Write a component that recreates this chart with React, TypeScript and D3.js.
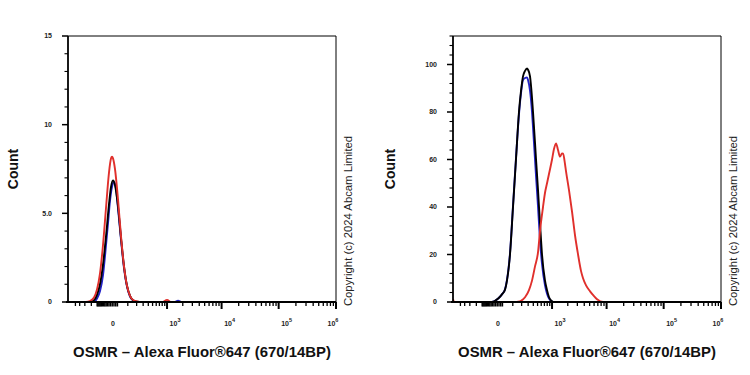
import React from "react";
import * as d3 from "d3";

// ---------- data ----------
const X_MIN = -720;
const X_MAX = 1000000;
const SYMLOG_CONSTANT = 135;

const xMajorTicks = [1000, 10000, 100000, 1000000];
const xMajorExponents = ["3", "4", "5", "6"];
const xZeroLabel = "0";
const xMinorTicks = [
  -500, -400, -300, -200,
  100, 200, 300, 400, 500, 600, 700, 800, 900,
  2000, 3000, 4000, 5000, 6000, 7000, 8000, 9000,
  20000, 30000, 40000, 50000, 60000, 70000, 80000, 90000,
  200000, 300000, 400000, 500000, 600000, 700000, 800000, 900000,
];
const xZeroClusterTicks = [-130, -120, -110, -100, -90, -80, -70, -60, -50, -40, -30, -20, -10, 0, 10, 20];

const leftYMax = 15;
const leftYMajor = [0, 5, 10, 15];
const leftYLabels = ["0", "5.0", "10", "15"];
const leftYMinorStep = 1;

const rightYMax = 112;
const rightYMajor = [0, 20, 40, 60, 80, 100];
const rightYLabels = ["0", "20", "40", "60", "80", "100"];
const rightYMinorStep = 4;

const xTitle = "OSMR \u2013 Alexa Fluor\u00ae647 (670/14BP)";
const yTitle = "Count";
const copyright = "Copyright (c) 2024 Abcam Limited";

type Pt = [number, number];

const leftRed: Pt[] = [
  [-720, 0], [-281, 0], [-219, 0.05], [-166, 0.25], [-132, 0.7], [-102, 1.6], [-75, 3.2],
  [-51, 5.3], [-30, 7.3], [-17, 8.1], [-11, 8.2], [-5.5, 8.1], [5.5, 7.5], [23.5, 5.8],
  [44, 3.7], [67, 2.0], [93, 0.9], [122, 0.35], [155, 0.12], [205, 0.03], [281, 0],
  [800, 0], [1000, 0.12], [1200, 0], [1000000, 0],
];
const leftBlack: Pt[] = [
  [-720, 0], [-220, 0], [-166, 0.1], [-132, 0.4], [-102, 1.0], [-75, 2.1], [-51, 3.7],
  [-30, 5.5], [-17, 6.5], [-5.5, 6.85], [5.5, 6.6], [23.5, 5.4], [44, 3.6], [67, 2.0],
  [93, 0.9], [122, 0.35], [155, 0.1], [205, 0.02], [281, 0], [1000000, 0],
];
const leftBlue: Pt[] = [
  [-720, 0], [-166, 0], [-132, 0.2], [-102, 0.6], [-75, 1.5], [-51, 3.2], [-37, 4.4],
  [-23.5, 5.7], [-11, 6.5], [0, 6.75], [11.3, 6.4], [23.5, 5.3], [44, 3.5], [67, 1.9],
  [93, 0.85], [122, 0.3], [155, 0.08], [205, 0], [1400, 0], [1630, 0.08], [1900, 0],
  [1000000, 0],
];

const rightRed: Pt[] = [
  [-720, 1.3], [-700, 0.4], [-680, 0], [132, 0], [155, 0.1], [192, 0.5], [249, 2], [315, 5],
  [373, 9], [438, 15], [512, 21], [566, 30], [655, 40], [721, 46], [793, 50], [871, 54],
  [1000, 60], [1094, 64.5], [1197, 66.8], [1308, 64], [1429, 61.2], [1560, 62.6],
  [1630, 62.5], [1777, 58], [1855, 55], [2110, 47], [2398, 38], [2722, 28], [3088, 20],
  [3501, 13], [3804, 10], [4309, 7], [5084, 4.5], [5993, 2.5], [6777, 1.2], [8661, 0],
  [1000000, 0],
];
const rightBlack: Pt[] = [
  [-720, 0], [-51, 0], [-37, 0.1], [-17, 0.8], [0, 1.8], [17, 3.2], [37, 5.2], [51, 9],
  [75, 20], [102, 40], [132, 60], [166, 80], [192, 89], [219, 95], [249, 97.3], [281, 98.3],
  [298, 97.8], [334, 95], [373, 86], [394, 80], [438, 67], [462, 60], [512, 47], [538, 40],
  [566, 33], [624, 20], [721, 9], [793, 5], [871, 2], [1000, 0.3], [1100, 0], [1000000, 0],
];
const rightBlue: Pt[] = [
  [-720, 0], [-51, 0], [-37, 0.1], [-17, 0.8], [0, 1.8], [17, 3.2], [37, 5.4], [51, 9.3],
  [75, 20.5], [102, 40.5], [132, 60.5], [166, 79], [192, 88], [219, 93.5], [249, 94.3],
  [281, 94.6], [298, 93.5], [334, 89], [373, 80], [394, 73.5], [438, 60], [462, 53],
  [512, 40], [538, 33], [566, 26], [624, 16], [721, 7], [793, 3.5], [871, 1.5], [1000, 0.2],
  [1100, 0], [1000000, 0],
];

const RED = "#e0302c";
const BLACK = "#000000";
const BLUE = "#2222c8";

// ---------- components ----------
const FONT = "'Liberation Sans', Arial, Helvetica, sans-serif";

interface PanelProps {
  dx: number;
  titleX: number;
  yMax: number;
  yMajor: number[];
  yLabels: string[];
  yMinorStep: number;
  series: { data: Pt[]; color: string }[];
  clipId: string;
}

function Panel({ dx, titleX, yMax, yMajor, yLabels, yMinorStep, series, clipId }: PanelProps) {
  const left = dx + 68;
  const right = dx + 336;
  const top = 36;
  const bottom = 302;

  const x = d3.scaleSymlog().constant(SYMLOG_CONSTANT).domain([X_MIN, X_MAX]).range([left, right]);
  const y = d3.scaleLinear().domain([0, yMax]).range([bottom, top]);

  const line = d3
    .line<Pt>()
    .x((d) => x(d[0]))
    .y((d) => y(d[1]))
    .curve(d3.curveMonotoneX);

  const yMinor = d3.range(0, yMax + 1e-9, yMinorStep).filter((v) => !yMajor.includes(v));

  return (
    <g>
      <defs>
        <clipPath id={clipId}>
          <rect x={left} y={top - 2} width={right - left} height={bottom - top + 4} />
        </clipPath>
      </defs>

      {/* frame */}
      <line x1={left} x2={right} y1={top} y2={top} stroke="#000" strokeWidth={1} />
      <line x1={right} x2={right} y1={top} y2={bottom} stroke="#000" strokeWidth={1} />

      {/* curves */}
      <g clipPath={`url(#${clipId})`}>
        {series.map((s, i) => (
          <path key={i} d={line(s.data) || ""} fill="none" stroke={s.color} strokeWidth={1.9} strokeLinejoin="round" />
        ))}
      </g>

      {/* y axis */}
      <line x1={left} x2={left} y1={top} y2={bottom + 1} stroke="#000" strokeWidth={1.8} />
      {yMajor.map((v, i) => (
        <g key={"ym" + v}>
          <line x1={left - 6} x2={left} y1={y(v)} y2={y(v)} stroke="#000" strokeWidth={1.5} />
          <text
            x={left - 16}
            y={y(v)}
            dy="0.35em"
            textAnchor="end"
            fontSize={7}
            fontWeight="bold"
            fill="#222"
            fontFamily={FONT}
          >
            {yLabels[i]}
          </text>
        </g>
      ))}
      {yMinor.map((v) => (
        <line key={"yn" + v} x1={left - 3.5} x2={left} y1={y(v)} y2={y(v)} stroke="#000" strokeWidth={1.1} />
      ))}

      {/* x axis */}
      <line x1={left - 2} x2={right} y1={bottom} y2={bottom} stroke="#000" strokeWidth={1.8} />
      {xMinorTicks.map((v) => (
        <line key={"xn" + v} x1={x(v)} x2={x(v)} y1={bottom} y2={bottom + 4} stroke="#000" strokeWidth={1.3} />
      ))}
      {xZeroClusterTicks.map((v) => (
        <line key={"xz" + v} x1={x(v)} x2={x(v)} y1={bottom} y2={bottom + 4.5} stroke="#000" strokeWidth={1.5} />
      ))}
      {xMajorTicks.map((v, i) => (
        <g key={"xm" + v}>
          <line x1={x(v)} x2={x(v)} y1={bottom} y2={bottom + 7} stroke="#000" strokeWidth={2} />
          <text
            x={x(v) + (i === xMajorTicks.length - 1 ? -3 : 8)}
            y={bottom + 24}
            textAnchor="middle"
            fontSize={7}
            fontWeight="bold"
            fill="#222"
            fontFamily={FONT}
          >
            10
            <tspan dy={-4} fontSize={5.5}>
              {xMajorExponents[i]}
            </tspan>
          </text>
        </g>
      ))}
      <text
        x={x(0) - 1}
        y={bottom + 24}
        textAnchor="middle"
        fontSize={7}
        fontWeight="bold"
        fill="#222"
        fontFamily={FONT}
      >
        {xZeroLabel}
      </text>

      {/* titles */}
      <text
        x={(left + right) / 2}
        y={357}
        textAnchor="middle"
        fontSize={14.9}
        fontWeight="bold"
        fill="#111"
        fontFamily={FONT}
      >
        {xTitle}
      </text>
      <text
        transform={`translate(${titleX},169) rotate(-90)`}
        textAnchor="middle"
        fontSize={14}
        fontWeight="bold"
        fill="#111"
        fontFamily={FONT}
      >
        {yTitle}
      </text>
      <text
        transform={`translate(${right + 15.5},221) rotate(-90)`}
        textAnchor="middle"
        fontSize={11.3}
        fill="#222"
        fontFamily={FONT}
      >
        {copyright}
      </text>
    </g>
  );
}

export default function App() {
  return (
    <svg
      width={750}
      height={375}
      style={{ position: "absolute", left: 0, top: 0, background: "#fff" }}
    >
      <rect x={0} y={0} width={750} height={375} fill="#fff" />
      <Panel
        dx={0}
        titleX={18}
        yMax={leftYMax}
        yMajor={leftYMajor}
        yLabels={leftYLabels}
        yMinorStep={leftYMinorStep}
        clipId="clipL"
        series={[
          { data: leftBlue, color: BLUE },
          { data: leftBlack, color: BLACK },
          { data: leftRed, color: RED },
        ]}
      />
      <Panel
        dx={385}
        titleX={395}
        yMax={rightYMax}
        yMajor={rightYMajor}
        yLabels={rightYLabels}
        yMinorStep={rightYMinorStep}
        clipId="clipR"
        series={[
          { data: rightBlue, color: BLUE },
          { data: rightBlack, color: BLACK },
          { data: rightRed, color: RED },
        ]}
      />
    </svg>
  );
}
